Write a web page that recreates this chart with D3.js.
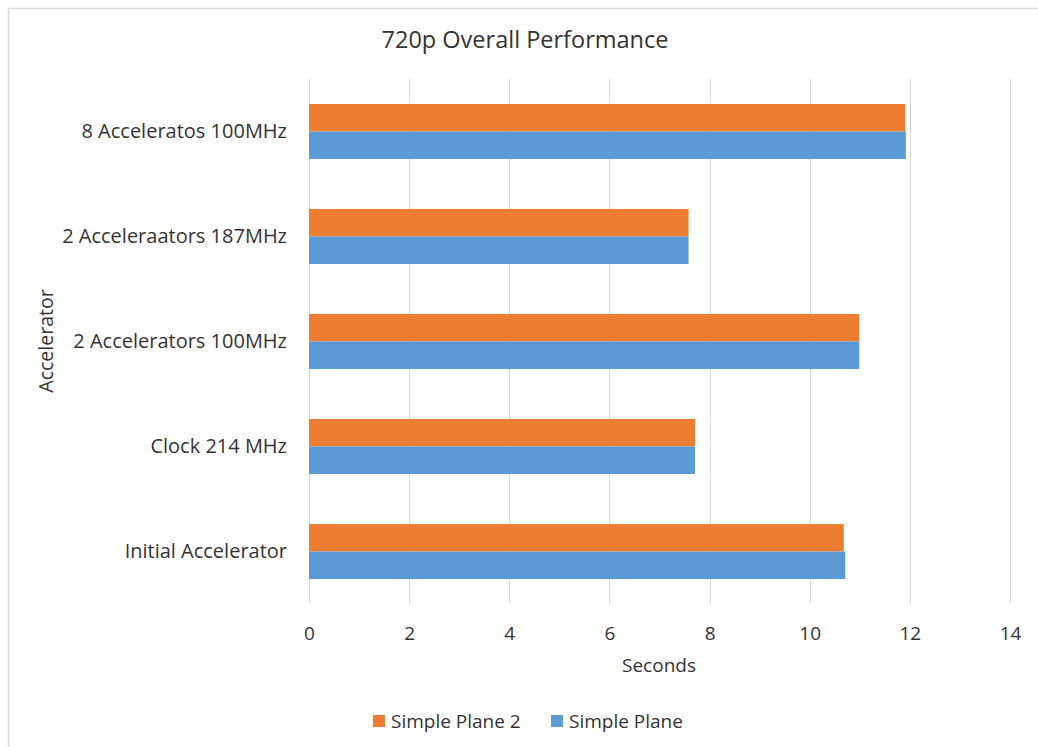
<!DOCTYPE html>
<html>
<head>
<meta charset="utf-8">
<script src="https://cdn.jsdelivr.net/npm/d3@7"></script>
<style>
  html, body { margin: 0; padding: 0; background: #fff; }
  svg { display: block; font-family: "Open Sans", "Noto Sans", sans-serif; }
</style>
</head>
<body>
<svg id="chart" width="1038" height="747"></svg>
<script>
// Accelerator configurations, listed bottom to top
const categories = [
  "Initial Accelerator",
  "Clock 214 MHz",
  "2 Accelerators 100MHz",
  "2 Acceleraators 187MHz",
  "8 Acceleratos 100MHz"
];
const seriesNames = ["Simple Plane 2", "Simple Plane"];
const simplePlane2 = [10.68, 7.71, 10.99, 7.58, 11.91];
const simplePlane = [10.71, 7.71, 10.99, 7.58, 11.92];
const xTicks = [0, 2, 4, 6, 8, 10, 12, 14];
const colors = ["#ED7D31", "#5B9BD5"];

const textColor = "#333333";
const svg = d3.select("#chart");

// chart frame
svg.append("path")
  .attr("d", "M8.5,747 V8.5 H1038")
  .attr("fill", "none")
  .attr("stroke", "#d9d9d9")
  .attr("stroke-width", 1.5);

const plot = { left: 309, right: 1010, top: 79, bottom: 604 };

const x = d3.scaleLinear().domain([0, 14]).range([plot.left, plot.right]);
const y = d3.scaleBand().domain(categories)
  .range([plot.bottom, plot.top])
  .paddingInner(0.476).paddingOuter(0.238);
const sub = d3.scaleBand().domain(seriesNames).range([0, y.bandwidth()]);

// vertical gridlines
svg.append("g").selectAll("line").data(xTicks).join("line")
  .attr("x1", d => Math.round(x(d)) + 0.5)
  .attr("x2", d => Math.round(x(d)) + 0.5)
  .attr("y1", plot.top)
  .attr("y2", plot.bottom)
  .attr("stroke", "#d9d9d9")
  .attr("stroke-width", 1);

// bars
const series = [simplePlane2, simplePlane];
series.forEach((vals, si) => {
  svg.append("g").selectAll("rect").data(categories).join("rect")
    .attr("x", x(0))
    .attr("y", c => y(c) + sub(seriesNames[si]))
    .attr("width", (c, i) => x(vals[i]) - x(0))
    .attr("height", sub.bandwidth())
    .attr("fill", colors[si]);
});

// x axis labels
const xAxis = svg.append("g")
  .attr("transform", `translate(0,${plot.bottom})`)
  .call(d3.axisBottom(x).tickValues(xTicks).tickSize(0).tickPadding(23));
xAxis.select(".domain").remove();
xAxis.selectAll("text")
  .attr("font-size", 19).attr("fill", textColor)
  .attr("font-family", "Open Sans, sans-serif");

// category labels
const yAxis = svg.append("g")
  .attr("transform", `translate(${plot.left},0)`)
  .call(d3.axisLeft(y).tickSize(0).tickPadding(22));
yAxis.select(".domain").remove();
yAxis.selectAll("text")
  .attr("font-size", 20).attr("fill", textColor)
  .attr("font-family", "Open Sans, sans-serif");

// title
svg.append("text")
  .attr("x", 525).attr("y", 48)
  .attr("text-anchor", "middle")
  .attr("font-size", 23.5).attr("fill", textColor)
  .text("720p Overall Performance");

// axis titles
svg.append("text")
  .attr("x", 659).attr("y", 672)
  .attr("text-anchor", "middle")
  .attr("font-size", 19).attr("fill", textColor)
  .text("Seconds");

svg.append("text")
  .attr("transform", "translate(53,341) rotate(-90)")
  .attr("text-anchor", "middle")
  .attr("font-size", 19.5).attr("fill", textColor)
  .text("Accelerator");

// legend
const legend = svg.append("g");
const legendItems = [
  { name: seriesNames[0], color: colors[0], x: 373 },
  { name: seriesNames[1], color: colors[1], x: 551 }
];
legendItems.forEach(it => {
  legend.append("rect")
    .attr("x", it.x).attr("y", 715)
    .attr("width", 12).attr("height", 12)
    .attr("fill", it.color);
  legend.append("text")
    .attr("x", it.x + 18).attr("y", 728)
    .attr("font-size", 19).attr("fill", textColor)
    .text(it.name);
});
</script>
</body>
</html>
